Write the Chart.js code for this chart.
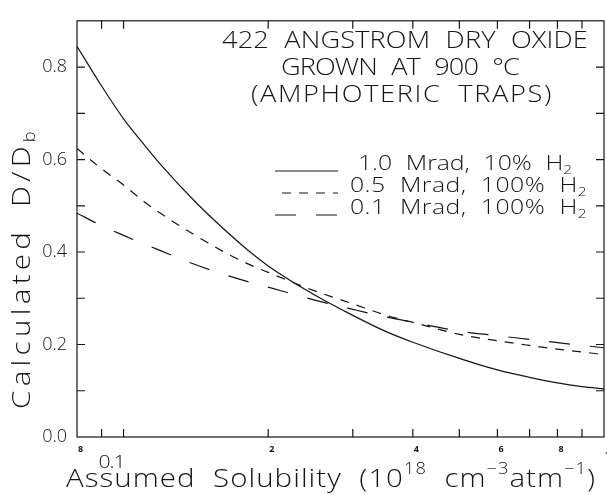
<!DOCTYPE html>
<html>
<head>
<meta charset="utf-8">
<script src="https://cdn.jsdelivr.net/npm/chart.js@4/dist/chart.umd.min.js"></script>
<style>
html, body { margin: 0; padding: 0; background: #fff; }
</style>
</head>
<body>
<canvas id="myChart" width="607" height="495"></canvas>
<script>
// solubility, 10^18 cm^-3 atm^-1
var solubility = [0.08, 0.09, 0.10, 0.11, 0.12, 0.14, 0.16, 0.18, 0.2, 0.25, 0.3, 0.35, 0.4, 0.5, 0.6, 0.7, 0.8, 0.9, 1.0];
// calculated D/Db for each dose
var mrad10 = [0.845, 0.759, 0.688, 0.634, 0.587, 0.512, 0.454, 0.407, 0.370, 0.307, 0.263, 0.229, 0.205, 0.170, 0.145, 0.129, 0.117, 0.109, 0.104];
var mrad05 = [0.624, 0.580, 0.545, 0.510, 0.482, 0.438, 0.403, 0.376, 0.356, 0.316, 0.288, 0.264, 0.248, 0.222, 0.208, 0.198, 0.190, 0.184, 0.178];
var mrad01 = [0.484, 0.457, 0.436, 0.418, 0.402, 0.374, 0.353, 0.337, 0.324, 0.296, 0.276, 0.260, 0.248, 0.229, 0.219, 0.211, 0.204, 0.198, 0.193];

var seriesNames = ['1.0 Mrad, 10% H', '0.5 Mrad, 100% H', '0.1 Mrad, 100% H'];
var seriesDash = [[], [9, 8], [21, 20]];

var yTicks = [0, 0.2, 0.4, 0.6, 0.8];
var yMinor = [0.1, 0.2, 0.3, 0.4, 0.5, 0.6, 0.7, 0.8];
var xMinor = [0.09, 0.1, 0.2, 0.3, 0.4, 0.5, 0.6, 0.7, 0.8, 0.9];
var xSmallVals = [0.08, 0.2, 0.4, 0.6, 0.8];
var xSmallText = ['8', '2', '4', '6', '8'];

var FONT = '"Open Sans", "DejaVu Sans", sans-serif';
var INK = '#151515';
var STRETCH = 1.18;

function pts(ys) {
    return solubility.map(function(x, i) { return { x: x, y: ys[i] }; });
}

// draws text pieces with super/subscripts, glyphs widened a bit,
// wide word gaps, and letters spaced out to fill the given width
function drawRuns(ctx, runs, x, y, size, width, align) {
    var nat = 0, chars = 0, gaps = 0;
    var ws = size * 0.3;
    ctx.letterSpacing = '0px';
    ctx.wordSpacing = '0px';
    runs.forEach(function(r) {
        var s = r[1] ? size * 0.62 : size;
        ctx.font = '300 ' + s + 'px ' + FONT;
        r.w = ctx.measureText(r[0]).width;
        r.gaps = r[0].split(' ').length - 1;
        nat += r.w + r.gaps * ws;
        chars += r[0].length;
        gaps += r.gaps;
    });
    var sp = width ? (width - nat * STRETCH) / chars : 0;
    var total = nat * STRETCH + sp * chars;
    var cx = align === 'center' ? x - total / 2 : (align === 'right' ? x - total : x);
    ctx.save();
    ctx.translate(cx, y);
    ctx.scale(STRETCH, 1);
    ctx.textAlign = 'left';
    ctx.textBaseline = 'middle';
    ctx.letterSpacing = (sp / STRETCH) + 'px';
    ctx.wordSpacing = ws + 'px';
    var lx = 0;
    runs.forEach(function(r) {
        var s = r[1] ? size * 0.62 : size;
        var dy = r[1] === 'sup' ? -size * 0.42 : (r[1] === 'sub' ? size * 0.3 : 0);
        ctx.font = '300 ' + s + 'px ' + FONT;
        ctx.fillText(r[0], lx, dy);
        lx += r.w + r.gaps * ws + (sp / STRETCH) * r[0].length;
    });
    ctx.letterSpacing = '0px';
    ctx.wordSpacing = '0px';
    ctx.restore();
}

var framePlugin = {
    id: 'frame',
    afterDatasetsDraw: function(chart) {
        var ctx = chart.ctx, a = chart.chartArea;
        var xs = chart.scales.x, ys = chart.scales.y;
        ctx.save();
        ctx.strokeStyle = INK;
        ctx.lineWidth = 1.2;
        ctx.strokeRect(a.left, a.top, a.right - a.left, a.bottom - a.top);
        ctx.beginPath();
        xMinor.forEach(function(v) {
            var px = xs.getPixelForValue(v);
            ctx.moveTo(px, a.bottom); ctx.lineTo(px, a.bottom - 8);
            ctx.moveTo(px, a.top); ctx.lineTo(px, a.top + 8);
        });
        yMinor.forEach(function(v) {
            var py = ys.getPixelForValue(v);
            ctx.moveTo(a.left, py); ctx.lineTo(a.left + 8, py);
            ctx.moveTo(a.right, py); ctx.lineTo(a.right - 8, py);
        });
        ctx.stroke();

        ctx.fillStyle = INK;
        // small x tick digits
        ctx.font = 'bold 9px ' + FONT;
        ctx.textAlign = 'left';
        ctx.textBaseline = 'middle';
        xSmallVals.forEach(function(v, i) {
            ctx.fillText(xSmallText[i], xs.getPixelForValue(v) + 1, a.bottom + 12);
        });
        ctx.font = 'bold 11px ' + FONT;
        ctx.fillText('1', xs.getPixelForValue(1) + 1, a.bottom + 19);
        drawRuns(ctx, [['0.1']], xs.getPixelForValue(0.1) + 1, a.bottom + 26, 18, 26, 'right');

        // axis titles
        drawRuns(ctx, [['Assumed Solubility (10'], ['18', 'sup'], [' cm'], ['\u22123', 'sup'], ['atm'], ['\u22121', 'sup'], [')']],
            331, 480, 25, 530, 'center');
        ctx.save();
        ctx.translate(23, 268);
        ctx.rotate(-Math.PI / 2);
        drawRuns(ctx, [['Calculated D/D'], ['b', 'sub']], 0, 0, 25, 282, 'center');
        ctx.restore();

        // heading
        drawRuns(ctx, [['422 ANGSTROM DRY OXIDE']], 588, 41, 23, 366, 'right');
        drawRuns(ctx, [['GROWN AT 900 \u00B0C']], 400, 68, 23, 238, 'center');
        drawRuns(ctx, [['(AMPHOTERIC TRAPS)']], 402, 95, 23, 302, 'center');

        // legend
        var legY = [164, 186, 208];
        var legX = [358, 350, 350];
        var legW = [214, 237, 237];
        chart.data.datasets.forEach(function(ds, i) {
            ctx.setLineDash(ds.borderDash || []);
            ctx.lineWidth = 1.2;
            ctx.beginPath();
            ctx.moveTo(i === 1 ? 282 : 275, legY[i] + 7);
            ctx.lineTo(338, legY[i] + 7);
            ctx.stroke();
            ctx.setLineDash([]);
            drawRuns(ctx, [[ds.label], ['2', 'sub']], legX[i], legY[i], 21, legW[i], 'left');
        });
        ctx.restore();
    }
};

var ctx = document.getElementById('myChart').getContext('2d');
var myChart = new Chart(ctx, {
    type: 'line',
    data: {
        datasets: [mrad10, mrad05, mrad01].map(function(ys, i) {
            return {
                label: seriesNames[i],
                data: pts(ys),
                borderColor: INK,
                borderWidth: 1.2,
                borderDash: seriesDash[i],
                pointRadius: 0,
                fill: false,
                cubicInterpolationMode: 'monotone'
            };
        })
    },
    options: {
        responsive: false,
        animation: false,
        layout: { padding: { top: 11, right: 3, left: 0, bottom: 0 } },
        plugins: { legend: { display: false }, tooltip: { enabled: false } },
        scales: {
            x: {
                type: 'logarithmic',
                min: 0.08,
                max: 1,
                grid: { display: false, drawTicks: false },
                border: { display: false },
                ticks: { display: false },
                afterFit: function(s) { s.height = 58; }
            },
            y: {
                min: 0,
                max: 0.9,
                grid: { display: false, drawTicks: false },
                border: { display: false },
                afterBuildTicks: function(s) { s.ticks = yTicks.map(function(v) { return { value: v }; }); },
                ticks: {
                    padding: 10,
                    color: INK,
                    font: { family: FONT, size: 18, weight: 300 },
                    callback: function(v) { return v.toFixed(1); }
                },
                afterFit: function(s) { s.width = 77; }
            }
        }
    },
    plugins: [framePlugin]
});
</script>
</body>
</html>
